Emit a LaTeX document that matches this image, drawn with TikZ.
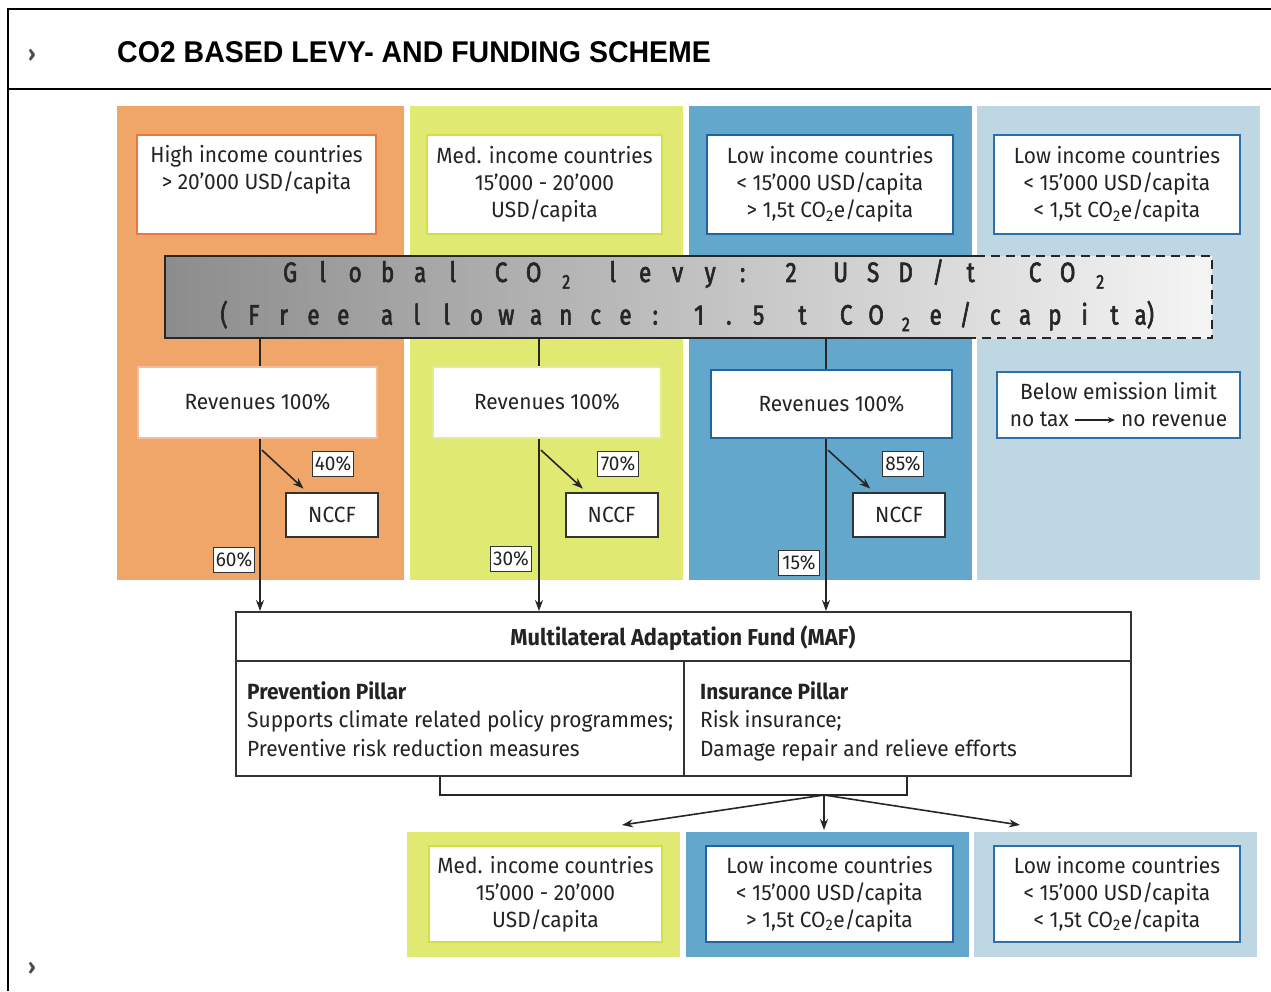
\documentclass[tikz,border=0pt]{standalone}
\usepackage{fontspec}
\setmainfont[FakeStretch=0.95]{Fira Sans}
\newfontfamily\titlefont[FakeStretch=0.95]{Liberation Sans}
\newfontfamily\levyfont[FakeStretch=0.8,FakeBold=2.2]{Fira Sans}
\newlength\levypitch
\newcommand\levysub{\raisebox{-0.45ex}{\fontsize{20}{20}\selectfont 2}}
\newcommand\levycell[1]{\makebox[\levypitch]{#1}}
\makeatletter
\newcommand\levyword[1]{\@tfor\levych:=#1\do{\levycell{\levych}}}
\makeatother
\usetikzlibrary{arrows.meta,calc}
\definecolor{ink}{RGB}{35,35,35}
\definecolor{hiFill}{RGB}{240,165,105}
\definecolor{medFill}{RGB}{224,233,114}
\definecolor{lowFill}{RGB}{99,167,204}
\definecolor{belowFill}{RGB}{190,215,226}
\definecolor{hiLine}{RGB}{234,120,60}
\definecolor{medLine}{RGB}{210,224,70}
\definecolor{lowLine}{RGB}{30,100,160}
\definecolor{belowLine}{RGB}{42,112,170}
\begin{document}
\begin{tikzpicture}[x=1pt, y=-1pt,
  every node/.style={font=\fontsize{22}{27}\selectfont, text=ink},
  panel/.style={fill=#1, inner sep=0pt},
  box/.style={draw=#1, fill=white, line width=2.2pt, align=center, inner sep=0pt},
  fund/.style={draw=black!80, fill=white, line width=2pt, minimum width=92, minimum height=44, inner sep=0pt},
  share/.style={draw=black!80, fill=white, line width=1.4pt, inner sep=0pt, minimum width=41, minimum height=25, font=\fontsize{20}{20}\selectfont},
  levyline/.style={anchor=west, inner sep=0pt, text=black!85, font=\levyfont\fontsize{28}{28}\selectfont},
  link/.style={line width=1.6pt, draw=black!85},
  flow/.style={link, -{Stealth[length=11pt, width=8pt]}},
  pillar/.style={anchor=north west, align=left, inner sep=0pt, font=\fontsize{22}{28.5}\selectfont}]
\useasboundingbox (0,0) rectangle (1271,991);

\draw[line width=2.6pt] (8,991) -- (8,9) -- (1271,9);
\draw[line width=2.6pt] (8,89) -- (1271,89);
\node[font=\bfseries\fontsize{22}{22}\selectfont, text=black!70] (MarkTop) at (32,55) {›};
\node[font=\bfseries\fontsize{22}{22}\selectfont, text=black!70] (MarkBot) at (32,968) {›};
\node[font=\titlefont\bfseries\fontsize{30}{36}\selectfont, anchor=west, inner sep=0pt, text=black] (Title) at (117,52) {CO2 BASED LEVY- AND FUNDING SCHEME};

\node[panel=hiFill, minimum width=287, minimum height=474] (HighCol) at (260.5,343) {};
\node[panel=medFill, minimum width=273, minimum height=474] (MedCol) at (546.5,343) {};
\node[panel=lowFill, minimum width=283, minimum height=474] (LowCol) at (830.5,343) {};
\node[panel=belowFill, minimum width=283, minimum height=474] (BelowCol) at (1118.5,343) {};

\node[box=hiLine, minimum width=239, minimum height=99] (High) at (256.5,184.5) {High income countries\\> 20’000 USD/capita\\ \strut};
\node[box=medLine, minimum width=235, minimum height=99] (Med) at (544.5,184.5) {Med. income countries\\15’000 - 20’000\\USD/capita};
\node[box=lowLine, minimum width=246, minimum height=99] (Low) at (830,184.5) {Low income countries\\< 15’000 USD/capita\\> 1,5t CO\textsubscript{2}e/capita};
\node[box=belowLine, minimum width=246, minimum height=99] (Below) at (1117,184.5) {Low income countries\\< 15’000 USD/capita\\< 1,5t CO\textsubscript{2}e/capita};

\node[left color=black!45, right color=black!4, minimum width=1047, minimum height=82, inner sep=0pt] (Levy) at (688.5,297) {};
\coordinate (Cut) at (976,297);
\draw[line width=2.2pt, black!85] (Levy.north -| Cut) -- (Levy.north west) -- (Levy.south west) -- (Levy.south -| Cut);
\draw[line width=2.2pt, black!85, dash pattern=on 9pt off 6pt] (Levy.north -| Cut) -- (Levy.north east) -- (Levy.south east) -- (Levy.south -| Cut);
\node[levyline] (LevyRate) at (273.75,274) {\setlength\levypitch{32.5pt}\levyword{Global}\hspace{16pt}\levyword{CO}\levycell{\levysub}\hspace{14pt}\levyword{levy:}\hspace{16pt}\levyword{2}\hspace{17pt}\levyword{USD/t}\hspace{32pt}\levyword{CO}\levycell{\levysub}};
\node[levyline] (LevyAllowance) at (209,316) {\setlength\levypitch{29.8pt}\levyword{(Free}\hspace{14pt}\levyword{allowance:}\hspace{14pt}\levyword{1.5}\hspace{14pt}\levyword{t}\hspace{14pt}\levyword{CO}\levycell{\levysub}\levyword{e/capit}\levycell{a)}};

\node[box=hiLine!50, minimum width=239, minimum height=71] (RevHigh) at (257.5,402.5) {Revenues 100\%};
\node[box=medLine!60, minimum width=228, minimum height=71] (RevMed) at (547,402.5) {Revenues 100\%};
\node[box=lowLine, minimum width=241, minimum height=68] (RevLow) at (831.5,404) {Revenues 100\%};
\node[box=belowLine, minimum width=243, minimum height=66] (Limit) at (1118.5,405) {Below emission limit\\no tax \tikz[baseline=-0.6ex]\draw[line width=1.3pt, -{Stealth[length=7pt, width=6pt]}] (0pt,0pt) -- (40pt,0pt); no revenue};

\node[fund] (FundHigh) at (332,515) {NCCF};
\node[fund] (FundMed) at (611.5,515) {NCCF};
\node[fund] (FundLow) at (899,515) {NCCF};

\node[draw=black!80, fill=white, line width=2pt, minimum width=895, minimum height=164, inner sep=0pt] (Maf) at (683.5,694) {};
\coordinate (Head) at (684,661);
\draw[line width=2pt, black!80] (Maf.west |- Head) -- (Maf.east |- Head);
\draw[line width=2pt, black!80] (Head) -- (Head |- Maf.south);
\node[font=\bfseries\fontsize{23}{27}\selectfont] (MafTitle) at (683,638) {Multilateral Adaptation Fund (MAF)};
\node[pillar] (Prevention) at (247,681) {\textbf{Prevention Pillar}\\Supports climate related policy programmes;\\Preventive risk reduction measures};
\node[pillar] (Insurance) at (700,681) {\textbf{Insurance Pillar}\\Risk insurance;\\Damage repair and relieve efforts};

\coordinate (TrunkHigh) at (260,450);
\coordinate (TrunkMed) at (539,450);
\coordinate (TrunkLow) at (826,450);
\draw[link] (Levy.south -| TrunkHigh) -- (RevHigh.north -| TrunkHigh);
\draw[link] (Levy.south -| TrunkMed) -- (RevMed.north -| TrunkMed);
\draw[link] (Levy.south -| TrunkLow) -- (RevLow.north -| TrunkLow);
\draw[flow] (RevHigh.south -| TrunkHigh) -- (Maf.north -| TrunkHigh);
\draw[flow] (RevMed.south -| TrunkMed) -- (Maf.north -| TrunkMed);
\draw[flow] (RevLow.south -| TrunkLow) -- (Maf.north -| TrunkLow);
\draw[flow, shorten >=5pt] ($(RevHigh.south -| TrunkHigh)+(2,11)$) -- (FundHigh);
\draw[flow, shorten >=5pt] ($(RevMed.south -| TrunkMed)+(2,11)$) -- (FundMed);
\draw[flow, shorten >=5pt] ($(RevLow.south -| TrunkLow)+(2,11)$) -- (FundLow);

\node[share] (ShareHighFund) at (333,464) {40\%};
\node[share] (ShareHighMaf) at (234,560) {60\%};
\node[share] (ShareMedFund) at (618,464) {70\%};
\node[share] (ShareMedMaf) at (511,559) {30\%};
\node[share] (ShareLowFund) at (903,464) {85\%};
\node[share] (ShareLowMaf) at (799,563) {15\%};

\coordinate (BraceL) at (440,795);
\coordinate (BraceR) at (907,795);
\coordinate (Fork) at (824,795);
\draw[link] (Maf.south -| BraceL) -- (BraceL) -- (BraceR) -- (Maf.south -| BraceR);

\node[panel=medFill, minimum width=273, minimum height=125] (MedFoot) at (543.5,894.5) {};
\node[panel=lowFill, minimum width=283, minimum height=125] (LowFoot) at (827.5,894.5) {};
\node[panel=belowFill, minimum width=283, minimum height=125] (BelowFoot) at (1115.5,894.5) {};
\node[box=medLine, minimum width=233, minimum height=96] (MedDst) at (545.5,894) {Med. income countries\\15’000 - 20’000\\USD/capita};
\node[box=lowLine, minimum width=247, minimum height=96] (LowDst) at (829.5,894) {Low income countries\\< 15’000 USD/capita\\> 1,5t CO\textsubscript{2}e/capita};
\node[box=belowLine, minimum width=246, minimum height=96] (BelowDst) at (1117,894) {Low income countries\\< 15’000 USD/capita\\< 1,5t CO\textsubscript{2}e/capita};

\coordinate (ToMed) at (622,825);
\coordinate (ToLow) at (824,830);
\coordinate (ToBelow) at (1020,825);
\draw[flow] (Fork) -- (ToMed);
\draw[flow] (Fork) -- (ToLow);
\draw[flow] (Fork) -- (ToBelow);
\end{tikzpicture}
\end{document}
